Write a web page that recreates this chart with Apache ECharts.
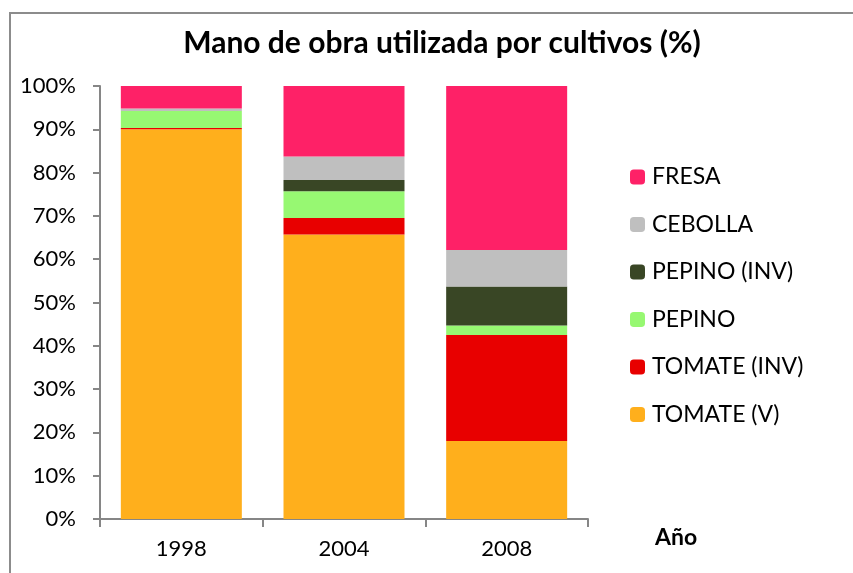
<!DOCTYPE html>
<html>
<head>
<meta charset="utf-8">
<script src="https://cdn.jsdelivr.net/npm/echarts@6/dist/echarts.min.js"></script>
<style>
  html, body { margin: 0; padding: 0; background: #fff; }
  #chart { width: 853px; height: 573px; }
</style>
</head>
<body>
<div id="chart"></div>
<script type="text/javascript">
    // datos (%)
    var years = ['1998', '2004', '2008'];
    var tomateV = [90.0, 65.7, 18.0];
    var tomateInv = [0.3, 3.8, 24.5];
    var pepino = [3.9, 6.2, 2.2];
    var pepinoInv = [0.0, 2.6, 9.0];
    var cebolla = [0.6, 5.4, 8.4];
    var fresa = [5.2, 16.3, 37.9];
    var yTicks = [0, 10, 20, 30, 40, 50, 60, 70, 80, 90, 100];

    var font = 'Lato, "Open Sans", sans-serif';
    var myChart = echarts.init(document.getElementById('chart'));

    function serie(name, data, color) {
        return {
            name: name,
            type: 'bar',
            stack: 'total',
            barWidth: 121,
            data: data,
            itemStyle: { color: color },
            emphasis: { disabled: true }
        };
    }

    var option = {
        animation: false,
        graphic: [{
            type: 'rect',
            shape: { x: 10, y: 13, width: 900, height: 600 },
            style: { fill: 'none', stroke: '#8c8c8c', lineWidth: 2 },
            silent: true
        }, {
            type: 'text',
            left: 655,
            top: 526,
            style: { text: 'Año', font: 'bold 23px ' + font, fill: '#000' }
        }],
        title: {
            text: 'Mano de obra utilizada por cultivos (%)',
            left: 437,
            textAlign: 'center',
            top: 23,
            textStyle: { fontFamily: font, fontWeight: 'bold', fontSize: 30, color: '#000' }
        },
        legend: {
            orient: 'vertical',
            left: 630,
            top: 165.5,
            padding: 0,
            itemWidth: 15,
            itemHeight: 15,
            itemGap: 24.5,
            selectedMode: false,
            textStyle: { fontFamily: font, fontSize: 23, color: '#000', padding: [0, 0, 0, 2] },
            data: ['FRESA', 'CEBOLLA', 'PEPINO (INV)', 'PEPINO', 'TOMATE (INV)', 'TOMATE (V)']
        },
        grid: { left: 100, right: 265, top: 86, bottom: 54 },
        xAxis: {
            type: 'category',
            data: years,
            axisLine: { lineStyle: { color: '#868686', width: 2 } },
            axisTick: { show: true, length: 8, lineStyle: { color: '#868686', width: 2 } },
            axisLabel: { fontFamily: font, fontSize: 22, color: '#000', margin: 19 }
        },
        yAxis: {
            type: 'value',
            min: yTicks[0],
            max: yTicks[yTicks.length - 1],
            interval: 10,
            splitLine: { show: false },
            axisLine: { show: true, lineStyle: { color: '#868686', width: 2 } },
            axisTick: { show: true, length: 7, lineStyle: { color: '#868686', width: 2 } },
            axisLabel: { fontFamily: font, fontSize: 22, color: '#000', margin: 24, formatter: '{value}%' }
        },
        series: [
            serie('TOMATE (V)', tomateV, '#FFAF1C'),
            serie('TOMATE (INV)', tomateInv, '#E80000'),
            serie('PEPINO', pepino, '#97F872'),
            serie('PEPINO (INV)', pepinoInv, '#394625'),
            serie('CEBOLLA', cebolla, '#BFBFBF'),
            serie('FRESA', fresa, '#FE2167')
        ]
    };
    myChart.setOption(option);
</script>
</body>
</html>
